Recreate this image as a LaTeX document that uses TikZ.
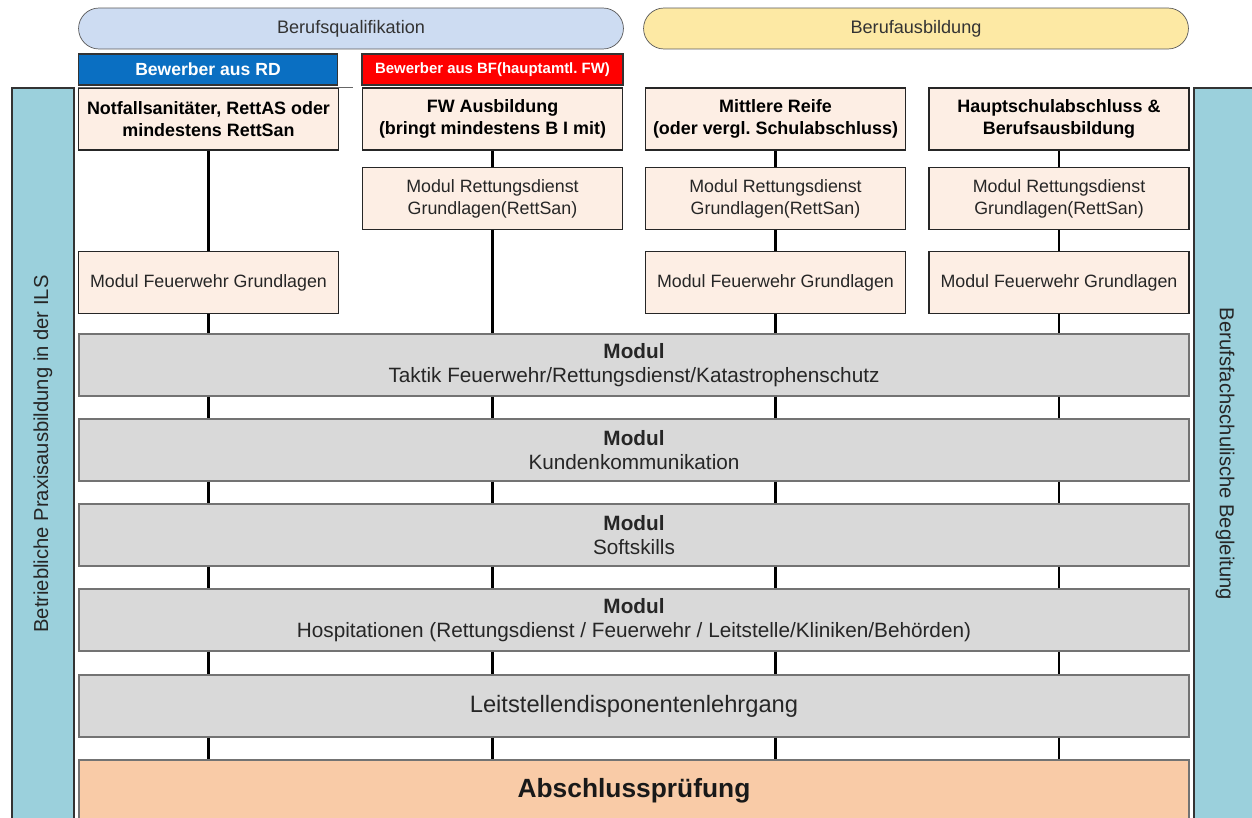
\documentclass[tikz,border=0pt]{standalone}
\usepackage{fontspec}
\setmainfont{Liberation Sans}
\frenchspacing
\usetikzlibrary{calc}
\definecolor{peach}{HTML}{FDEEE4}
\definecolor{boxgray}{HTML}{D9D9D9}
\definecolor{sideblue}{HTML}{9BD0DC}
\definecolor{qualblue}{HTML}{CDDCF2}
\definecolor{ausbyellow}{HTML}{FDE9A4}
\definecolor{rdblue}{HTML}{0A6FC2}
\definecolor{finalorange}{HTML}{F9CBA7}
\tikzset{
  pill/.style={draw=black!65,rounded corners=0.41cm,minimum width=10.9cm,minimum height=0.82cm,inner sep=0,text=black!80,font=\fontsize{10.3}{12}\selectfont},
  tag/.style={draw=black!80,line width=0.8pt,minimum height=0.62cm,inner sep=0,text=white,font=\bfseries},
  entry/.style={draw=black!85,line width=0.8pt,fill=peach,minimum width=5.2cm,minimum height=1.24cm,align=center,inner sep=0,font=\bfseries\fontsize{10.2}{12.5}\selectfont},
  modbox/.style={entry,font=\fontsize{10.15}{12.5}\selectfont,text=black!85},
  wide/.style={draw=black!55,line width=0.8pt,fill=boxgray,minimum width=22.2cm,minimum height=1.24cm,align=center,inner sep=0,text=black!85,font=\fontsize{11.8}{14}\selectfont},
  side/.style={draw=black!80,line width=0.8pt,fill=sideblue,minimum width=14.64cm,minimum height=1.24cm,inner sep=0,text=black!85,font=\fontsize{11.5}{14}\selectfont},
  link/.style={line width=1.5pt}
}

\begin{document}
\begin{tikzpicture}[x=0.02cm,y=-0.02cm]
  \useasboundingbox (0,0) rectangle (1252,818);
  \clip (0,0) rectangle (1252,818);

  \node[pill,fill=qualblue] (qual) at (351,28.5) {Berufsqualifikation};
  \node[pill,fill=ausbyellow] (ausb) at (916,28.5) {Berufausbildung};

  \node[tag,fill=rdblue,minimum width=5.18cm,font=\bfseries\fontsize{10}{12}\selectfont] (rd) at (208,69.5) {Bewerber aus RD};
  \node[tag,fill=red,minimum width=5.22cm,font=\bfseries\fontsize{8.5}{10}\selectfont] (bf) at (492.5,69.5) {Bewerber aus BF(hauptamtl. FW)};

  \node[side,rotate=90] (praxis) at (43,454) {Betriebliche Praxisausbildung in der ILS};
  \node[side,rotate=-90] (schule) at (1225,454) {Berufsfachschulische Begleitung};

  \foreach \c/\x/\txt in {1/208.5/{Notfallsanitäter, RettAS oder\\mindestens RettSan},
                          2/492.5/{FW Ausbildung\\(bringt mindestens B I mit)},
                          3/775.5/{Mittlere Reife\\(oder vergl. Schulabschluss)},
                          4/1059/{Hauptschulabschluss \&\\Berufsausbildung}}
    \node[entry] (top\c) at (\x,119) {\txt};

  \foreach \c in {2,3,4}
    \node[modbox] (rs\c) at (top\c |- 0,198.5) {Modul Rettungsdienst\\Grundlagen(RettSan)};
  \foreach \c in {1,3,4}
    \node[modbox] (fg\c) at (top\c |- 0,282.5) {Modul Feuerwehr Grundlagen};

  \draw[black!60,line width=0.6pt] (top1.north west) -- ($(top1.north east)+(14,0)$);

  \node[wide] (w1) at (634,365) {\textbf{Modul}\\Taktik Feuerwehr/Rettungsdienst/Katastrophenschutz};
  \node[wide] (w2) at (634,450) {\textbf{Modul}\\Kundenkommunikation};
  \node[wide] (w3) at (634,535) {\textbf{Modul}\\Softskills};
  \node[wide] (w4) at (634,620) {\textbf{Modul}\\Hospitationen (Rettungsdienst / Feuerwehr / Leitstelle/Kliniken/Behörden)};
  \node[wide,font=\fontsize{13.5}{16}\selectfont] (w5) at (634,706) {Leitstellendisponentenlehrgang};
  \node[wide,fill=finalorange,font=\bfseries\fontsize{15}{18}\selectfont,text=black!90] (w6) at (634,791) {Abschlussprüfung};

  \draw[link] (top1) -- (fg1);
  \draw[link] (top2) -- (rs2);
  \draw[link] (top3) -- (rs3) -- (fg3);
  \draw[link] (top4) -- (rs4) -- (fg4);
  \foreach \b in {fg1,rs2,fg3,fg4}
    \draw[link] (\b.south) -- (\b.south |- w1.north);
  \foreach \i/\j in {1/2,2/3,3/4,4/5,5/6}
    \foreach \c in {1,2,3,4}
      \draw[link] (top\c |- w\i.south) -- (top\c |- w\j.north);
\end{tikzpicture}
\end{document}
